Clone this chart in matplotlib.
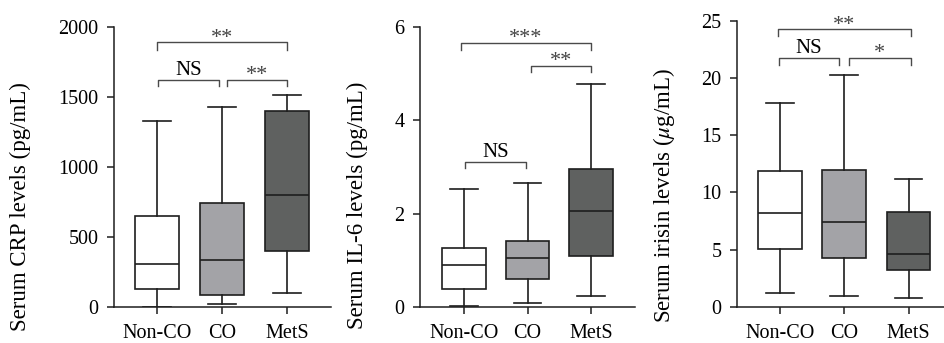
import matplotlib
matplotlib.use("Agg")
import matplotlib.pyplot as plt

plt.rcParams['font.family'] = ['Liberation Serif', 'DejaVu Serif']
plt.rcParams['mathtext.fontset'] = 'stix'

groups = ['Non-CO', 'CO', 'MetS']
box_colors = ['#ffffff', '#a3a3a7', '#5f6160']

# whislo, q1, median, q3, whishi for each group
crp_stats = [[0, 130, 310, 650, 1330],
             [20, 85, 335, 745, 1430],
             [100, 400, 800, 1395, 1515]]
il6_stats = [[0.02, 0.38, 0.90, 1.26, 2.52],
             [0.08, 0.61, 1.04, 1.42, 2.66],
             [0.24, 1.09, 2.05, 2.96, 4.78]]
irisin_stats = [[1.2, 5.1, 8.25, 11.85, 17.8],
                [1.0, 4.25, 7.4, 11.95, 20.25],
                [0.75, 3.2, 4.6, 8.3, 11.15]]

crp_ticks = [0, 500, 1000, 1500, 2000]
il6_ticks = [0, 2, 4, 6]
irisin_ticks = [0, 5, 10, 15, 20, 25]

# brackets: (x start, x end, y level, tick drop, label)
crp_brackets = [(1.0, 3.0, 1888, 57, '**'), (1.02, 1.95, 1621, 47, 'NS'),
                (2.08, 3.0, 1621, 47, '**')]
il6_brackets = [(0.95, 3.0, 5.66, 0.16, '***'), (2.05, 3.0, 5.16, 0.13, '**'),
                (1.02, 1.97, 3.11, 0.14, 'NS')]
irisin_brackets = [(0.97, 3.03, 24.25, 0.6, '**'), (0.98, 1.92, 21.77, 0.67, 'NS'),
                   (2.07, 3.03, 21.77, 0.67, '*')]

panels = [
    dict(stats=crp_stats, ticks=crp_ticks, brackets=crp_brackets,
         label='Serum CRP levels (pg/mL)',
         rect=[114/944, 36/343, 217/944, 280.3/343], xlim=(0.34, 3.68),
         lab_xy=(-0.43, 0.36)),
    dict(stats=il6_stats, ticks=il6_ticks, brackets=il6_brackets,
         label='Serum IL-6 levels (pg/mL)',
         rect=[420/944, 36/343, 215/944, 280.3/343], xlim=(0.31, 3.69),
         lab_xy=(-0.29, 0.364)),
    dict(stats=irisin_stats, ticks=irisin_ticks, brackets=irisin_brackets,
         label=r'Serum irisin levels ($\mu$g/mL)',
         rect=[736.7/944, 36/343, 215/944, 286.3/343], xlim=(0.33, 3.67),
         lab_xy=(-0.34, 0.388)),
]

fig = plt.figure(figsize=(9.44, 3.43), dpi=100)

line_kw = dict(color='#1e1e1e', linewidth=1.2)

for p in panels:
    ax = fig.add_axes(p['rect'])
    bxp_data = []
    for name, s in zip(groups, p['stats']):
        bxp_data.append(dict(label=name, whislo=s[0], q1=s[1], med=s[2],
                             q3=s[3], whishi=s[4], fliers=[]))
    res = ax.bxp(bxp_data, positions=[1, 2, 3], widths=0.68, capwidths=0.43,
                 patch_artist=True, showfliers=False,
                 boxprops=dict(edgecolor='#1e1e1e', linewidth=1.2),
                 medianprops=line_kw, whiskerprops=line_kw, capprops=line_kw)
    for patch, c in zip(res['boxes'], box_colors):
        patch.set_facecolor(c)

    ax.set_xlim(*p['xlim'])
    ax.set_ylim(p['ticks'][0], p['ticks'][-1])
    ax.set_yticks(p['ticks'])
    ax.set_xticks([1, 2, 3])
    ax.set_xticklabels(groups)
    ax.spines['top'].set_visible(False)
    ax.spines['right'].set_visible(False)
    for sp in ['left', 'bottom']:
        ax.spines[sp].set_linewidth(1.1)
        ax.spines[sp].set_color('#1e1e1e')
    ax.tick_params(axis='both', direction='out', length=5, width=1.1,
                   color='#1e1e1e', labelsize=14.5)
    ax.tick_params(axis='y', pad=6)
    ax.tick_params(axis='x', pad=7)

    ax.text(p['lab_xy'][0], p['lab_xy'][1], p['label'], transform=ax.transAxes,
            rotation=90, ha='center', va='center', fontsize=16.5)

    for a, b, y, drop, txt in p['brackets']:
        ax.plot([a, a, b, b], [y - drop, y, y, y - drop], color='#4a4a4a',
                linewidth=1.0, clip_on=False)
        if txt == 'NS':
            ax.text((a + b) / 2, y, txt, ha='center', va='bottom', fontsize=15)
        else:
            ax.annotate(txt, xy=((a + b) / 2, y), xytext=(0, -4),
                        textcoords='offset points', ha='center', va='bottom',
                        fontsize=16, color='#444444')

fig.savefig('out.png', dpi=100)
